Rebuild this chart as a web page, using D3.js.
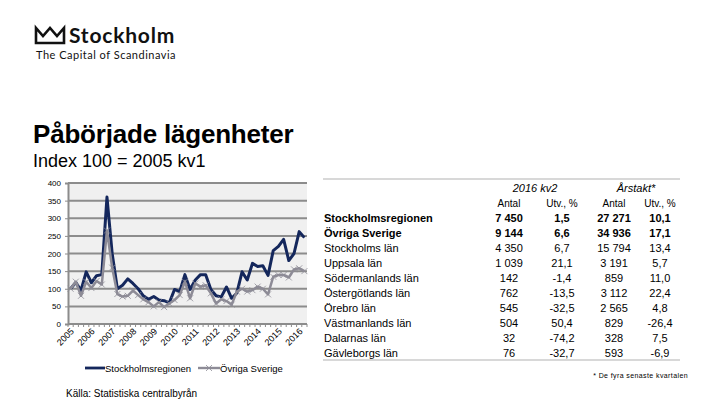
<!DOCTYPE html>
<html lang="sv">
<head>
  <meta charset="UTF-8">
  <title>Påbörjade lägenheter</title>
  <script src="https://d3js.org/d3.v7.min.js"></script>
  <style>
    body { margin: 0; padding: 0; background: #fff; }
    svg { display: block; font-family: "Liberation Sans", Arial, sans-serif; }
  </style>
</head>
<body>
  <div id="chart"></div>
  <script>
    // Index 100 = 2005 kv1, one value per quarter 2005 kv1 .. 2016 kv2
    const years = [2005, 2006, 2007, 2008, 2009, 2010, 2011, 2012, 2013, 2014, 2015, 2016];
    const stockholmsregionen = [100, 118, 95, 148, 117, 137, 140, 360, 200, 100, 110, 128,
      115, 100, 80, 70, 78, 68, 66, 60, 98, 92, 140, 98, 125, 140, 140, 98, 80, 77, 105, 73,
      88, 148, 125, 172, 163, 165, 138, 208, 220, 240, 180, 200, 262, 245];
    const ovrigaSverige = [100, 120, 80, 120, 102, 122, 112, 265, 160, 85, 78, 80,
      95, 82, 70, 62, 50, 62, 48, 58, 68, 82, 120, 73, 115, 106, 110, 87, 58, 70, 65, 55,
      92, 100, 92, 96, 106, 100, 84, 134, 139, 139, 132, 155, 158, 150];
    const yTicks = [0, 50, 100, 150, 200, 250, 300, 350, 400];

    // table
    const regions = ["Stockholmsregionen", "Övriga Sverige", "Stockholms län", "Uppsala län",
      "Södermanlands län", "Östergötlands län", "Örebro län", "Västmanlands län",
      "Dalarnas län", "Gävleborgs län"];
    const antalKv = ["7 450", "9 144", "4 350", "1 039", "142", "762", "545", "504", "32", "76"];
    const utvKv = ["1,5", "6,6", "6,7", "21,1", "-1,4", "-13,5", "-32,5", "50,4", "-74,2", "-32,7"];
    const antalAr = ["27 271", "34 936", "15 794", "3 191", "859", "3 112", "2 565", "829", "328", "593"];
    const utvAr = ["10,1", "17,1", "13,4", "5,7", "11,0", "22,4", "4,8", "-26,4", "7,5", "-6,9"];

    const quarters = [];
    years.forEach(y => [1, 2, 3, 4].forEach(q => quarters.push(y + " kv" + q)));
    quarters.length = stockholmsregionen.length;

    const width = 720, height = 405;
    const svg = d3.select("#chart").append("svg")
      .attr("width", width).attr("height", height);

    // ---- logo
    const logo = svg.append("g");
    logo.append("path")
      .attr("d", "M36,28 L36,43 L64,43 L64,28 L57,36 L50,28 L43,36 Z")
      .attr("fill", "none").attr("stroke", "#111").attr("stroke-width", 2.6)
      .attr("stroke-linejoin", "miter");
    logo.append("text").attr("x", 69).attr("y", 43)
      .attr("font-family", "Lato, 'Open Sans', sans-serif").attr("font-weight", 700)
      .attr("font-size", 21).attr("letter-spacing", 0.8).attr("fill", "#111").text("Stockholm");
    logo.append("text").attr("x", 36).attr("y", 59)
      .attr("font-family", "Lato, 'Open Sans', sans-serif").attr("letter-spacing", 0.5)
      .attr("font-size", 11).attr("fill", "#111").text("The Capital of Scandinavia");

    // ---- titles
    svg.append("text").attr("x", 33).attr("y", 143)
      .attr("font-size", 26).attr("font-weight", 700).attr("fill", "#000")
      .attr("letter-spacing", -0.2)
      .text("Påbörjade lägenheter");
    svg.append("text").attr("x", 33).attr("y", 167)
      .attr("font-size", 18).attr("fill", "#000")
      .text("Index 100 = 2005 kv1");

    // ---- chart
    const pLeft = 68, pRight = 307, pTop = 183, pBottom = 324;
    const x = d3.scalePoint().domain(quarters).range([pLeft, pRight]).padding(0.5);
    const y = d3.scaleLinear().domain([0, 400]).range([pBottom, pTop]);

    svg.append("rect").attr("x", pLeft).attr("y", pTop - 1)
      .attr("width", pRight - pLeft).attr("height", pBottom - pTop + 1).attr("fill", "#f0f0f0");

    svg.append("g").selectAll("line").data(yTicks.slice(1)).join("line")
      .attr("x1", pLeft).attr("x2", pRight)
      .attr("y1", d => y(d)).attr("y2", d => y(d))
      .attr("stroke", "#8c8c8c").attr("stroke-width", 2);

    const yAxis = svg.append("g").attr("transform", `translate(${pLeft},0)`)
      .call(d3.axisLeft(y).tickValues(yTicks).tickSize(3).tickPadding(4));
    yAxis.select(".domain").attr("stroke", "#8c8c8c").attr("stroke-width", 2);
    yAxis.selectAll(".tick line").attr("stroke", "#8c8c8c");
    yAxis.selectAll("text").attr("font-size", 8).attr("fill", "#000");

    // x axis with a tick between every quarter
    const step = x.step();
    const xg = svg.append("g");
    xg.append("line").attr("x1", pLeft).attr("x2", pRight)
      .attr("y1", pBottom).attr("y2", pBottom)
      .attr("stroke", "#8c8c8c").attr("stroke-width", 2);
    xg.selectAll("line.t").data(d3.range(quarters.length + 1)).join("line")
      .attr("class", "t")
      .attr("x1", i => pLeft + i * step).attr("x2", i => pLeft + i * step)
      .attr("y1", pBottom).attr("y2", pBottom + 3)
      .attr("stroke", "#8c8c8c").attr("stroke-width", 1);
    xg.selectAll("text").data(years).join("text")
      .attr("transform", d => `translate(${x(d + " kv1") + 4},${pBottom + 8}) rotate(-45)`)
      .attr("text-anchor", "end").attr("font-size", 9).attr("fill", "#000")
      .text(d => d);

    const line = d3.line().x((d, i) => x(quarters[i])).y(d => y(d));

    svg.append("path").datum(stockholmsregionen)
      .attr("d", line).attr("fill", "none")
      .attr("stroke", "#14275c").attr("stroke-width", 3).attr("stroke-linejoin", "round");

    svg.append("path").datum(ovrigaSverige)
      .attr("d", line).attr("fill", "none")
      .attr("stroke", "#8d8b96").attr("stroke-width", 2.5).attr("stroke-linejoin", "round");

    const cross = (g, cx, cy, r, col) => {
      g.append("path")
        .attr("d", `M${cx - r},${cy - r}L${cx + r},${cy + r}M${cx - r},${cy + r}L${cx + r},${cy - r}`)
        .attr("stroke", col).attr("stroke-width", 0.8);
    };
    const markers = svg.append("g");
    ovrigaSverige.forEach((v, i) => cross(markers, x(quarters[i]), y(v), 3, "#8d8b96"));

    // legend
    const lg = svg.append("g").attr("font-size", 9.5).attr("fill", "#000");
    lg.append("line").attr("x1", 85).attr("x2", 105).attr("y1", 368).attr("y2", 368)
      .attr("stroke", "#14275c").attr("stroke-width", 2.8);
    lg.append("text").attr("x", 105).attr("y", 371.5).text("Stockholmsregionen");
    lg.append("line").attr("x1", 198).attr("x2", 220).attr("y1", 368).attr("y2", 368)
      .attr("stroke", "#8d8b96").attr("stroke-width", 2.4);
    lg.append("path").attr("d", "M206,365L212,371M206,371L212,365")
      .attr("stroke", "#8d8b96").attr("stroke-width", 0.8);
    lg.append("text").attr("x", 220).attr("y", 371.5).text("Övriga Sverige");

    svg.append("text").attr("x", 66).attr("y", 397)
      .attr("font-size", 10).attr("fill", "#000").text("Källa: Statistiska centralbyrån");

    // ---- table
    const tx = 324, colX = [509, 562, 614, 660];
    const rowY = i => 222 + i * 15;
    const tb = svg.append("g").attr("font-size", 11).attr("fill", "#000");
    tb.append("line").attr("x1", 323).attr("x2", 680).attr("y1", 179).attr("y2", 179)
      .attr("stroke", "#d8d8d8").attr("stroke-width", 2);
    tb.append("line").attr("x1", 323).attr("x2", 680).attr("y1", 360).attr("y2", 360)
      .attr("stroke", "#d8d8d8").attr("stroke-width", 2);
    tb.append("text").attr("x", 535).attr("y", 192).attr("text-anchor", "middle")
      .attr("font-style", "italic").text("2016 kv2");
    tb.append("text").attr("x", 636).attr("y", 192).attr("text-anchor", "middle")
      .attr("font-style", "italic").text("Årstakt*");
    ["Antal", "Utv., %", "Antal", "Utv., %"].forEach((h, j) =>
      tb.append("text").attr("x", colX[j]).attr("y", 207).attr("text-anchor", "middle")
        .attr("font-size", 10).text(h));

    regions.forEach((r, i) => {
      const bold = i < 2 ? 700 : 400;
      tb.append("text").attr("x", tx).attr("y", rowY(i)).attr("font-weight", bold).text(r);
      [antalKv[i], utvKv[i], antalAr[i], utvAr[i]].forEach((v, j) =>
        tb.append("text").attr("x", colX[j]).attr("y", rowY(i))
          .attr("text-anchor", "middle").attr("font-weight", bold).text(v));
    });

    svg.append("text").attr("x", 688).attr("y", 378).attr("text-anchor", "end")
      .attr("font-size", 7).attr("letter-spacing", 0.4)
      .attr("fill", "#000").text("* De fyra senaste kvartalen");
  </script>
</body>
</html>
